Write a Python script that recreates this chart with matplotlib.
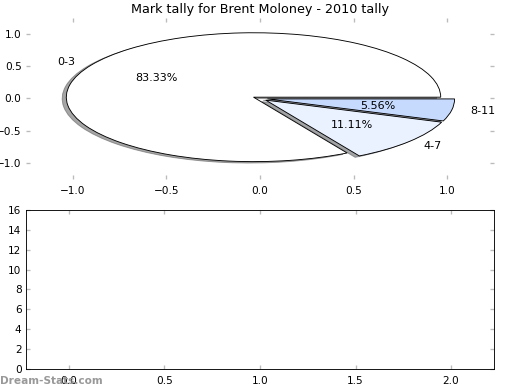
import matplotlib
matplotlib.use("Agg")
import matplotlib.pyplot as plt

labels = ["0-3", "4-7", "8-11"]
values = [15, 2, 1]
explode = [0.04, 0.04, 0.04]
colors = ["#ffffff", "#eaf1ff", "#c6dafe"]
title = "Mark tally for Brent Moloney - 2010 tally"

bar_xlim = (-0.225, 2.225)
bar_ylim = (0, 16)
bar_yticks = list(range(0, 17, 2))
bar_xticks = [0.0, 0.5, 1.0, 1.5, 2.0]

fig = plt.figure(figsize=(6.5, 4.875), dpi=80)
ax1 = fig.add_axes([0.05, 0.541, 0.9, 0.413])
ax2 = fig.add_axes([0.05, 0.054, 0.9, 0.4075])

wedges, texts, autotexts = ax1.pie(values, labels=labels, explode=explode, colors=colors,
                                   autopct="%.2f%%", shadow=True, startangle=0,
                                   wedgeprops=dict(edgecolor="black", linewidth=0.8),
                                   textprops=dict(fontsize=10), frame=True)
ax1.set_aspect("auto")
ax1.set_xlim(-1.25, 1.25)
ax1.set_ylim(-1.25, 1.25)
ax1.set_xticks([-1.0, -0.5, 0.0, 0.5, 1.0])
ax1.set_yticks([-1.0, -0.5, 0.0, 0.5, 1.0])
for s in ax1.spines.values():
    s.set_visible(False)
ax1.set_title(title, fontsize=11.5, pad=4)

ax2.set_xlim(*bar_xlim)
ax2.set_ylim(*bar_ylim)
ax2.set_yticks(bar_yticks)
ax2.set_xticks(bar_xticks)

for ax in (ax1, ax2):
    ax.tick_params(direction="in", length=4, width=1.2, color="#bbbbbb",
                   top=True, right=True, labelsize=9.5, pad=6)
    ax.tick_params(axis="y", pad=4)

fig.text(0.0, 0.01, "Dream-Stats.com", color="#999999", fontsize=9.5,
         fontweight="bold", ha="left", va="bottom")

fig.savefig("out.png", dpi=80)
